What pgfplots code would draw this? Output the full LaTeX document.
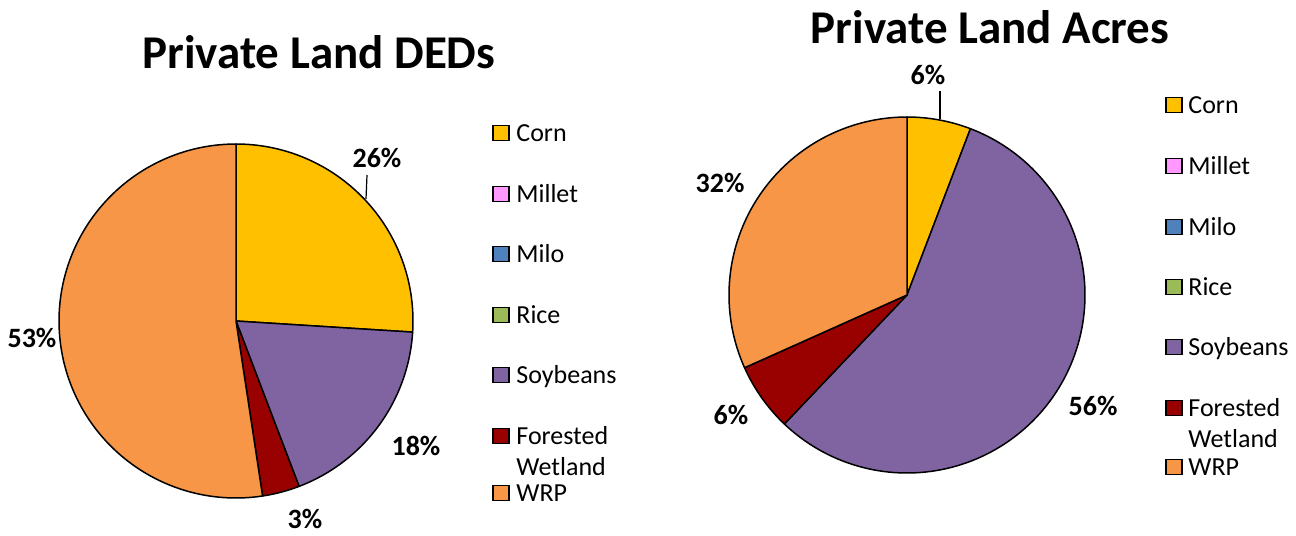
\documentclass[border=0pt]{standalone}
\usepackage{pgfplots}
\pgfplotsset{compat=1.18}
\usepackage{fontspec}
\setmainfont{Carlito}
\definecolor{corn}{HTML}{FFC000}
\definecolor{millet}{HTML}{FF99FF}
\definecolor{milo}{HTML}{4F81BD}
\definecolor{rice}{HTML}{9BBB59}
\definecolor{soy}{HTML}{8064A2}
\definecolor{forest}{HTML}{990000}
\definecolor{wrp}{HTML}{F79646}
% #1 = cumulative start (percent), #2 = share (percent), #3 = colour
\newcommand{\slice}[3]{%
  \addplot[draw=black, line width=0.75pt, line join=round, fill=#3,
    domain={90-3.6*(#1+#2)}:{90-3.6*(#1)}, samples=120, variable=\t]
    ({cos(\t)},{sin(\t)}) -- (axis cs:0,0) -- cycle;
}
\pgfplotsset{pie/.style={scale only axis, width=177pt, height=177pt,
  xmin=-1, xmax=1, ymin=-1, ymax=1, axis lines=none, clip=false,
  anchor=center}}
\newcommand{\legsq}[3]{% x, y, colour
  \draw[black, line width=0.8pt, fill=#3] (#1-8,#2-7.5) rectangle (#1+8,#2+7.5);}
\begin{document}
\begin{tikzpicture}
\begin{scope}[x=0.5pt,y=-0.5pt]
\useasboundingbox (0,0) rectangle (1296,531);
\end{scope}
% ---------- Pie 1: Private Land DEDs ----------
\begin{axis}[pie, width=177pt, height=177pt, at={(118pt,-160.5pt)}]
\slice{0}{26.0}{corn}
\slice{26.0}{18.2}{soy}
\slice{44.2}{3.4}{forest}
\slice{47.6}{52.4}{wrp}
\end{axis}
% ---------- Pie 2: Private Land Acres ----------
\begin{axis}[pie, width=178pt, height=178pt, at={(453.5pt,-147.5pt)}]
\slice{0}{5.8}{corn}
\slice{5.8}{56.3}{soy}
\slice{62.1}{6.2}{forest}
\slice{68.3}{31.7}{wrp}
\end{axis}
\begin{scope}[x=0.5pt,y=-0.5pt]
% titles
\node[font=\fontsize{23.5}{28}\selectfont\bfseries] at (319,52) {Private Land DEDs};
\node[font=\fontsize{23.5}{28}\selectfont\bfseries] at (990,27) {Private Land Acres};
% percent labels
\begin{scope}[every node/.style={font=\fontsize{14}{16}\selectfont\bfseries}]
\node at (377,158) {26\%};
\node at (416,446) {18\%};
\node at (305,519) {3\%};
\node at (32,338) {53\%};
\node at (928,75) {6\%};
\node at (1093,406) {56\%};
\node at (731,415) {6\%};
\node at (720,183) {32\%};
\end{scope}
% leader lines
\draw[black, line width=0.6pt] (367,175) -- (366,199);
\draw[black, line width=0.6pt] (940,91) -- (940,119);
% legend 1
\begin{scope}[every node/.style={font=\fontsize{13}{15}\selectfont, anchor=base west, inner sep=0pt}]
\legsq{501}{133}{corn}   \node at (516,141.5) {Corn};
\legsq{501}{194}{millet} \node at (516,202.5) {Millet};
\legsq{501}{254}{milo}   \node at (516,262.5) {Milo};
\legsq{501}{315}{rice}   \node at (516,323.5) {Rice};
\legsq{501}{375}{soy}    \node at (516,383.5) {Soybeans};
\legsq{501}{436}{forest} \node at (516,444.5) {Forested};
                         \node at (516,475) {Wetland};
\legsq{501}{493}{wrp}    \node at (516,501.5) {WRP};
% legend 2
\legsq{1174}{105}{corn}   \node at (1188,113.5) {Corn};
\legsq{1174}{166}{millet} \node at (1188,174.5) {Millet};
\legsq{1174}{227}{milo}   \node at (1188,235.5) {Milo};
\legsq{1174}{287}{rice}   \node at (1188,295.5) {Rice};
\legsq{1174}{347}{soy}    \node at (1188,355.5) {Soybeans};
\legsq{1174}{408}{forest} \node at (1188,416.5) {Forested};
                          \node at (1188,447.5) {Wetland};
\legsq{1174}{467}{wrp}    \node at (1188,475.5) {WRP};
\end{scope}
\end{scope}
\end{tikzpicture}
\end{document}
